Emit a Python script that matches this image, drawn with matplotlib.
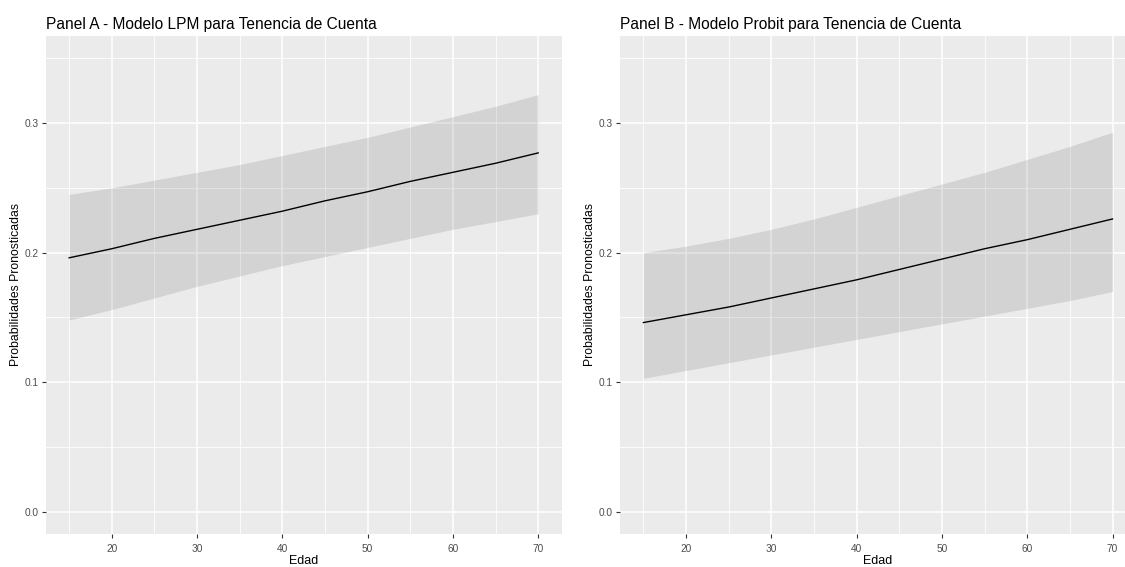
import matplotlib.pyplot as plt
from matplotlib.ticker import MultipleLocator

plt.rcParams['font.family'] = ['Liberation Sans', 'DejaVu Sans']

# edades evaluadas
edad = [15, 20, 25, 30, 35, 40, 45, 50, 55, 60, 65, 70]

# Panel A - LPM
lpm_fit = [0.196, 0.203, 0.211, 0.218, 0.225, 0.232, 0.240, 0.247, 0.255, 0.262, 0.269, 0.277]
lpm_upper = [0.245, 0.250, 0.256, 0.262, 0.268, 0.275, 0.282, 0.289, 0.297, 0.305, 0.313, 0.322]
lpm_lower = [0.148, 0.156, 0.165, 0.174, 0.182, 0.190, 0.197, 0.204, 0.211, 0.218, 0.224, 0.230]

# Panel B - Probit
probit_fit = [0.146, 0.152, 0.158, 0.165, 0.172, 0.179, 0.187, 0.195, 0.203, 0.210, 0.218, 0.226]
probit_upper = [0.200, 0.205, 0.211, 0.218, 0.226, 0.235, 0.244, 0.253, 0.262, 0.272, 0.282, 0.293]
probit_lower = [0.103, 0.109, 0.115, 0.121, 0.127, 0.133, 0.139, 0.145, 0.151, 0.157, 0.163, 0.170]

titles = ["Panel A - Modelo LPM para Tenencia de Cuenta",
          "Panel B - Modelo Probit para Tenencia de Cuenta"]

W, H = 1125, 567
fig = plt.figure(figsize=(W / 100, H / 100), dpi=100)


def px_axes(left, top, right, bottom):
    return fig.add_axes([left / W, 1 - bottom / H, (right - left) / W, (bottom - top) / H])


def panel(ax, fit, upper, lower, title):
    ax.set_facecolor("#EBEBEB")
    ax.fill_between(edad, lower, upper, color="black", alpha=0.1, linewidth=0, zorder=2)
    ax.plot(edad, fit, color="black", linewidth=1.0, zorder=3)

    ax.set_xlim(12.25, 72.75)
    ax.set_ylim(-0.0175, 0.3675)
    ax.xaxis.set_major_locator(MultipleLocator(10))
    ax.xaxis.set_minor_locator(MultipleLocator(5))
    ax.yaxis.set_major_locator(MultipleLocator(0.1))
    ax.yaxis.set_minor_locator(MultipleLocator(0.05))
    ax.set_yticks([0.0, 0.1, 0.2, 0.3])
    ax.set_yticklabels(["0.0", "0.1", "0.2", "0.3"])
    ax.set_xticks([20, 30, 40, 50, 60, 70])

    ax.grid(which="major", color="white", linewidth=1.1, zorder=1)
    ax.grid(which="minor", color="white", linewidth=0.6, zorder=1)
    ax.set_axisbelow(True)
    for s in ax.spines.values():
        s.set_visible(False)

    ax.tick_params(which="major", length=3, width=0.8, color="#333333",
                   labelsize=7.3, labelcolor="#4D4D4D")
    ax.tick_params(axis="x", pad=4)
    ax.tick_params(axis="y", pad=2)
    ax.tick_params(which="minor", length=0)

    ax.set_xlabel("Edad", fontsize=9, color="black", labelpad=1)
    ax.set_ylabel("Probabilidades Pronosticadas", fontsize=8.8, color="black", labelpad=2)
    ax.set_title(title, loc="left", fontsize=11.2, color="black", pad=5)


ax1 = px_axes(45.7, 35.7, 561.6, 534.3)
panel(ax1, lpm_fit, lpm_upper, lpm_lower, titles[0])

ax2 = px_axes(620.0, 35.7, 1136.0, 534.3)
panel(ax2, probit_fit, probit_upper, probit_lower, titles[1])

fig.savefig("out.png", dpi=100)
